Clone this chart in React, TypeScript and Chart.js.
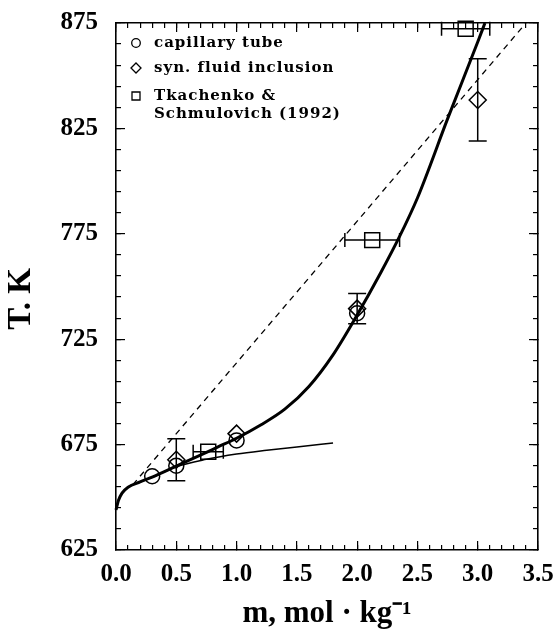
import React, { useEffect, useRef } from 'react';
import { Chart, registerables } from 'chart.js';

Chart.register(...registerables);

// ---- data (molality m, mol/kg ; temperature T, K) ----
const capillaryM = [0.3, 0.5, 1.0, 2.0];
const capillaryT = [660, 665, 677, 737.3];

const inclusionM = [0.5, 1.0, 2.0, 3.0];
const inclusionT = [667.8, 680.2, 739.5, 838.5];
const inclusionTErr = [10, 0, 7.2, 19.5];

const tkachenkoM = [0.765, 2.125, 2.9];
const tkachenkoT = [671.6, 772, 872.3];
const tkachenkoMErr = [0.125, 0.227, 0.2];

const fitM = [0, 0.02, 0.05, 0.1, 0.2, 0.3, 0.5, 0.7, 0.85, 1.0, 1.2, 1.4, 1.6, 1.8, 2.0, 2.2, 2.35, 2.5, 2.75, 3.0, 3.06];
const fitT = [644, 648.5, 652, 654.8, 657.3, 659.6, 664.8, 670, 674, 678, 684.3, 691.8, 702.6, 717.6, 736.5, 757, 773.5, 792, 829.5, 866, 875];

const limitM = [0, 0.02, 0.05, 0.1, 0.2, 0.3, 0.5, 0.75, 1.0, 1.25, 1.5, 1.8];
const limitT = [644, 648.5, 652, 654.8, 657.3, 659.5, 664.5, 668, 670.5, 672.3, 673.9, 675.8];

const dashM = [0.14, 3.4];
const dashT = [656, 875];

const legendLabels: (string | string[])[] = [
  'capillary tube',
  'syn. fluid inclusion',
  ['Tkachenko &', 'Schmulovich (1992)'],
];

const xTitle = 'm, mol \u00b7 kg\u207b\u00b9';
const yTitle = 'T. K   ';

const SERIF = '"Liberation Serif", "Times New Roman", serif';

const pts = (xs: number[], ys: number[]) => xs.map((x, i) => ({ x, y: ys[i] }));

const errorBarPlugin = {
  id: 'errorBars',
  afterDatasetsDraw(chart: any) {
    const { ctx, scales } = chart;
    const sx = scales.x;
    const sy = scales.y;
    ctx.save();
    ctx.strokeStyle = '#000';
    ctx.lineWidth = 1.5;
    inclusionM.forEach((m, i) => {
      const e = inclusionTErr[i];
      if (!e) return;
      const px = sx.getPixelForValue(m);
      const top = sy.getPixelForValue(inclusionT[i] + e);
      const bot = sy.getPixelForValue(inclusionT[i] - e);
      ctx.beginPath();
      ctx.moveTo(px, top);
      ctx.lineTo(px, bot);
      ctx.moveTo(px - 9, top);
      ctx.lineTo(px + 9, top);
      ctx.moveTo(px - 9, bot);
      ctx.lineTo(px + 9, bot);
      ctx.stroke();
    });
    tkachenkoM.forEach((m, i) => {
      const e = tkachenkoMErr[i];
      if (!e) return;
      const py = sy.getPixelForValue(tkachenkoT[i]);
      const l = sx.getPixelForValue(m - e);
      const r = sx.getPixelForValue(m + e);
      ctx.beginPath();
      ctx.moveTo(l, py);
      ctx.lineTo(r, py);
      ctx.moveTo(l, py - 7);
      ctx.lineTo(l, py + 7);
      ctx.moveTo(r, py - 7);
      ctx.lineTo(r, py + 7);
      ctx.stroke();
    });
    ctx.restore();
  },
};

const legendPlugin = {
  id: 'insideLegend',
  afterDraw(chart: any) {
    const { ctx, chartArea } = chart;
    const symX = chartArea.left + 20;
    const textX = chartArea.left + 38;
    const rows = [chartArea.top + 20, chartArea.top + 45, chartArea.top + 73];
    ctx.save();
    ctx.fillStyle = '#000';
    ctx.strokeStyle = '#000';
    ctx.lineWidth = 1.3;
    ctx.font = 'bold 15px "DejaVu Serif", serif';
    try {
      (ctx as any).letterSpacing = '1px';
    } catch (e) {
      /* ignore */
    }
    ctx.textBaseline = 'middle';
    ctx.textAlign = 'left';
    legendLabels.forEach((label, i) => {
      const lines = Array.isArray(label) ? label : [label];
      const y = rows[i];
      lines.forEach((ln, j) => ctx.fillText(ln, textX, y + j * 18));
      ctx.beginPath();
      if (i === 0) {
        ctx.arc(symX, y, 4.3, 0, Math.PI * 2);
      } else if (i === 1) {
        ctx.moveTo(symX - 5, y);
        ctx.lineTo(symX, y - 5);
        ctx.lineTo(symX + 5, y);
        ctx.lineTo(symX, y + 5);
        ctx.closePath();
      } else {
        ctx.rect(symX - 4, y - 4, 8, 8);
      }
      ctx.stroke();
    });
    ctx.restore();
  },
};

const tickFont = { family: SERIF, size: 25, weight: 'bold' as const };
const yTitleFont = { family: SERIF, size: 33, weight: 'bold' as const, lineHeight: 1 };
const xTitleFont = { family: SERIF, size: 31, weight: 'bold' as const, lineHeight: 1 };

const minorGrid = (len: number) => ({
  drawOnChartArea: false,
  drawTicks: true,
  tickLength: len,
  color: '#000',
  lineWidth: 1.2,
});

const fixH = (h: number) => (s: any) => {
  s.height = h;
  s.paddingLeft = 0;
  s.paddingRight = 0;
  s.paddingTop = 0;
  s.paddingBottom = 0;
};
const fixW = (w: number) => (s: any) => {
  s.width = w;
  s.paddingLeft = 0;
  s.paddingRight = 0;
  s.paddingTop = 0;
  s.paddingBottom = 0;
};

export default function App() {
  const ref = useRef<HTMLCanvasElement>(null);

  useEffect(() => {
    const canvas = ref.current;
    if (!canvas) return;
    const chart = new Chart(canvas, {
      type: 'scatter',
      data: {
        datasets: [
          {
            label: 'fit',
            data: pts(fitM, fitT),
            showLine: true,
            borderColor: '#000',
            borderWidth: 3,
            pointRadius: 0,
            cubicInterpolationMode: 'monotone',
            fill: false,
            clip: false,
          },
          {
            label: 'limiting',
            data: pts(limitM, limitT),
            showLine: true,
            borderColor: '#000',
            borderWidth: 1.5,
            pointRadius: 0,
            cubicInterpolationMode: 'monotone',
            fill: false,
            clip: false,
          },
          {
            label: 'dashed',
            data: pts(dashM, dashT),
            showLine: true,
            borderColor: '#000',
            borderWidth: 1.3,
            borderDash: [6, 5],
            pointRadius: 0,
            fill: false,
            clip: false,
          },
          {
            label: 'capillary tube',
            data: pts(capillaryM, capillaryT),
            pointStyle: 'circle',
            pointRadius: 7.5,
            borderColor: '#000',
            backgroundColor: 'rgba(0,0,0,0)',
            borderWidth: 1.5,
            clip: false,
          },
          {
            label: 'syn. fluid inclusion',
            data: pts(inclusionM, inclusionT),
            pointStyle: 'rectRot',
            pointRadius: 8.5,
            borderColor: '#000',
            backgroundColor: 'rgba(0,0,0,0)',
            borderWidth: 1.5,
            clip: false,
          },
          {
            label: 'Tkachenko & Schmulovich (1992)',
            data: pts(tkachenkoM, tkachenkoT),
            pointStyle: 'rect',
            pointRadius: 10.6,
            borderColor: '#000',
            backgroundColor: 'rgba(0,0,0,0)',
            borderWidth: 1.5,
            clip: false,
          },
        ],
      } as any,
      options: {
        responsive: false,
        animation: false,
        devicePixelRatio: 1,
        layout: { padding: { left: 0, top: 23, right: 16, bottom: 0 } },
        plugins: {
          legend: { display: false },
          title: { display: false },
          tooltip: { enabled: false },
        },
        elements: { line: { tension: 0 } },
        scales: {
          x: {
            type: 'linear',
            position: 'bottom',
            weight: 1,
            min: 0,
            max: 3.5,
            ticks: {
              stepSize: 0.5,
              padding: 19,
              color: '#000',
              font: tickFont,
              maxRotation: 0,
              autoSkip: false,
              callback: (v: any) => Number(v).toFixed(1),
            },
            grid: minorGrid(-9),
            border: { display: true, color: '#000', width: 1.6 },
            title: {
              display: true,
              text: xTitle,
              color: '#000',
              font: xTitleFont,
              padding: { top: 0, bottom: 0 },
            },
            afterFit: fixH(79),
          },
          xMinor: {
            type: 'linear',
            position: 'bottom',
            weight: 0,
            min: 0,
            max: 3.5,
            ticks: { display: false, stepSize: 0.1, maxTicksLimit: 100, autoSkip: false },
            grid: minorGrid(-5),
            border: { display: false },
            afterFit: fixH(0),
          },
          x2: {
            type: 'linear',
            position: 'top',
            weight: 1,
            min: 0,
            max: 3.5,
            ticks: { display: false, stepSize: 0.5, autoSkip: false },
            grid: minorGrid(-9),
            border: { display: true, color: '#000', width: 1.6 },
            afterFit: fixH(0),
          },
          x2Minor: {
            type: 'linear',
            position: 'top',
            weight: 0,
            min: 0,
            max: 3.5,
            ticks: { display: false, stepSize: 0.1, maxTicksLimit: 100, autoSkip: false },
            grid: minorGrid(-5),
            border: { display: false },
            afterFit: fixH(0),
          },
          y: {
            type: 'linear',
            position: 'left',
            weight: 1,
            min: 625,
            max: 875,
            ticks: {
              stepSize: 50,
              padding: 27,
              color: '#000',
              font: tickFont,
              autoSkip: false,
              callback: (v: any) => String(v),
            },
            grid: minorGrid(-9),
            border: { display: true, color: '#000', width: 1.6 },
            title: {
              display: true,
              text: yTitle,
              color: '#000',
              font: yTitleFont,
              padding: { top: 5, bottom: 0 },
            },
            afterFit: fixW(116),
          },
          yMinor: {
            type: 'linear',
            position: 'left',
            weight: 0,
            min: 625,
            max: 875,
            ticks: { display: false, stepSize: 10, maxTicksLimit: 100, autoSkip: false },
            grid: minorGrid(-5),
            border: { display: false },
            afterFit: fixW(0),
          },
          y2: {
            type: 'linear',
            position: 'right',
            weight: 1,
            min: 625,
            max: 875,
            ticks: { display: false, stepSize: 50, autoSkip: false },
            grid: minorGrid(-9),
            border: { display: true, color: '#000', width: 1.6 },
            afterFit: fixW(0),
          },
          y2Minor: {
            type: 'linear',
            position: 'right',
            weight: 0,
            min: 625,
            max: 875,
            ticks: { display: false, stepSize: 10, maxTicksLimit: 100, autoSkip: false },
            grid: minorGrid(-5),
            border: { display: false },
            afterFit: fixW(0),
          },
        },
      } as any,
      plugins: [errorBarPlugin, legendPlugin],
    });
    return () => chart.destroy();
  }, []);

  return (
    <div style={{ position: 'fixed', left: 0, top: 0, width: 554, height: 629, background: '#fff' }}>
      <canvas ref={ref} width={554} height={629} style={{ display: 'block', width: 554, height: 629 }} />
    </div>
  );
}
